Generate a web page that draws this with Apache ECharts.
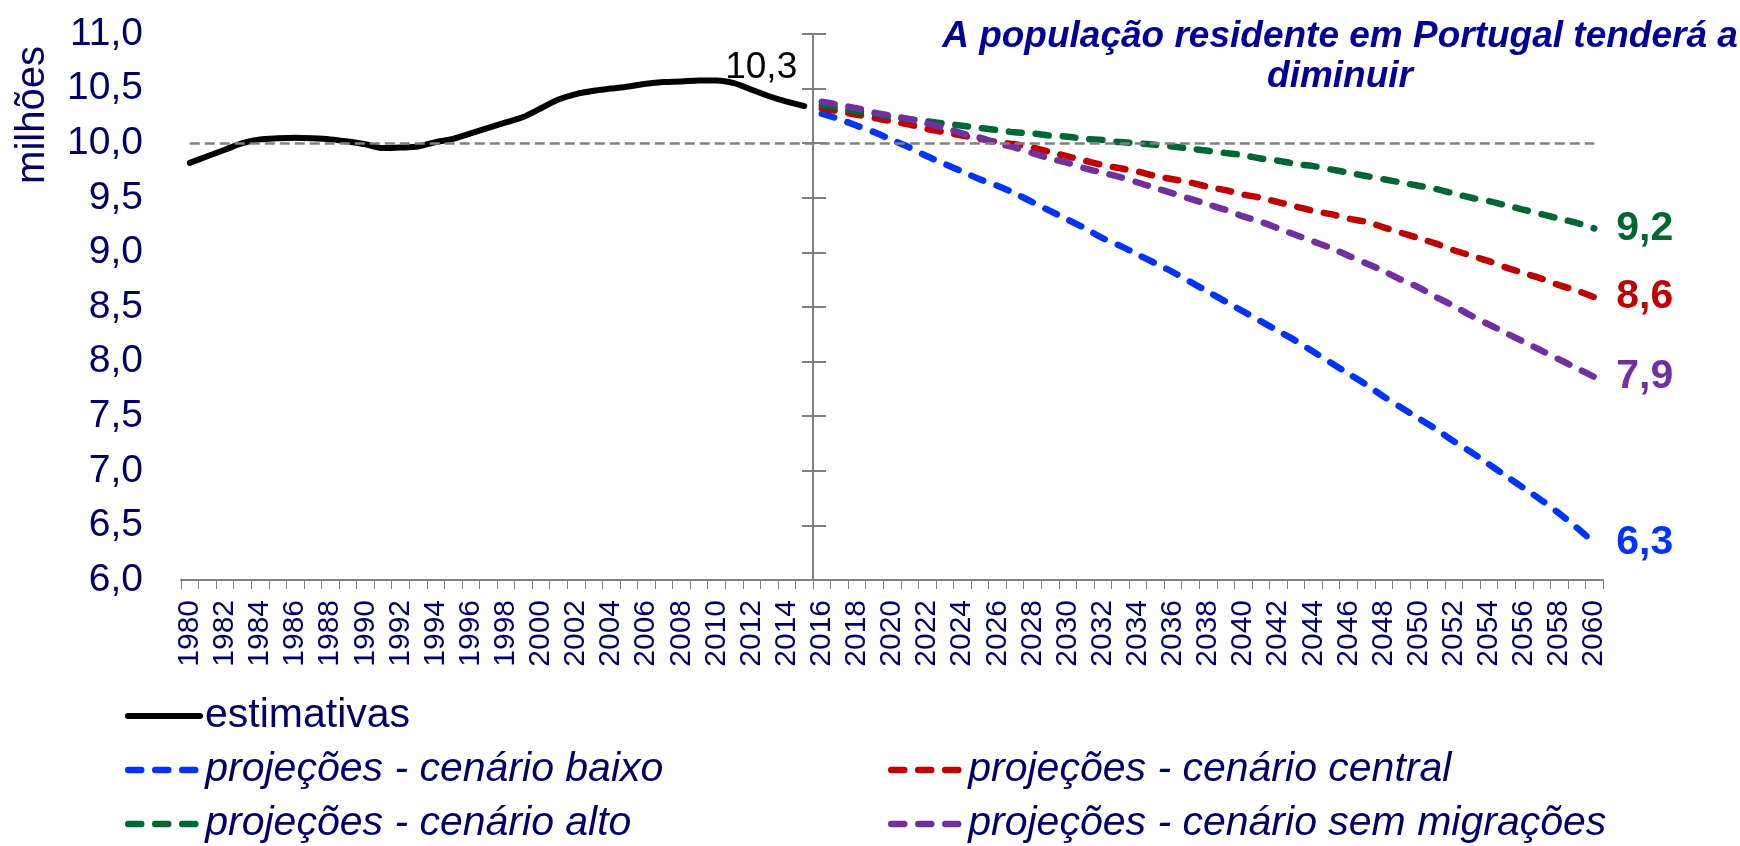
<!DOCTYPE html>
<html>
<head>
<meta charset="utf-8">
<script src="https://cdn.jsdelivr.net/npm/echarts@6/dist/echarts.min.js"></script>
<style>
  html, body { margin: 0; padding: 0; background: #fff; }
  #chart { width: 1740px; height: 846px; }
</style>
</head>
<body>
<div id="chart"></div>
<script>
// anos 1980-2060 (eixo das categorias)
const years = []
for (let y = 1980; y <= 2060; y++) years.push(String(y))

// estimativas 1980-2015 (milhões)
const estimativas = [9.82, 9.88, 9.94, 10.00, 10.035, 10.045, 10.05, 10.045, 10.035, 10.015,
  9.99, 9.955, 9.96, 9.97, 10.01, 10.04, 10.09, 10.14, 10.19, 10.24,
  10.32, 10.40, 10.45, 10.48, 10.50, 10.52, 10.545, 10.56, 10.565, 10.575,
  10.575, 10.55, 10.49, 10.43, 10.38, 10.34]

// projeções 2016-2060 (milhões)
const cenarioBaixo = [10.27, 10.22, 10.16, 10.10, 10.03, 9.96, 9.88, 9.81, 9.74, 9.67,
  9.61, 9.54, 9.46, 9.38, 9.30, 9.22, 9.13, 9.06, 8.98, 8.90,
  8.82, 8.73, 8.64, 8.55, 8.46, 8.37, 8.28, 8.19, 8.09, 7.99,
  7.89, 7.79, 7.68, 7.58, 7.48, 7.38, 7.27, 7.17, 7.06, 6.95,
  6.84, 6.73, 6.61, 6.48, 6.34]
const cenarioCentral = [10.32, 10.29, 10.26, 10.23, 10.20, 10.17, 10.13, 10.10, 10.07, 10.04,
  10.01, 9.99, 9.96, 9.92, 9.88, 9.84, 9.80, 9.77, 9.74, 9.70,
  9.67, 9.64, 9.60, 9.57, 9.53, 9.50, 9.46, 9.42, 9.38, 9.35,
  9.31, 9.28, 9.23, 9.18, 9.13, 9.08, 9.02, 8.97, 8.92, 8.86,
  8.81, 8.76, 8.70, 8.65, 8.59]
const cenarioAlto = [10.35, 10.32, 10.29, 10.27, 10.24, 10.22, 10.20, 10.18, 10.16, 10.14,
  10.12, 10.10, 10.09, 10.07, 10.06, 10.04, 10.03, 10.01, 10.00, 9.985,
  9.97, 9.95, 9.93, 9.91, 9.89, 9.86, 9.84, 9.81, 9.79, 9.76,
  9.73, 9.70, 9.67, 9.64, 9.61, 9.58, 9.54, 9.50, 9.47, 9.43,
  9.39, 9.35, 9.31, 9.27, 9.22]
const cenarioSemMigracoes = [10.38, 10.35, 10.32, 10.28, 10.25, 10.22, 10.18, 10.14, 10.09, 10.05,
  10.00, 9.96, 9.91, 9.86, 9.82, 9.77, 9.73, 9.69, 9.64, 9.59,
  9.54, 9.49, 9.44, 9.39, 9.33, 9.28, 9.22, 9.16, 9.10, 9.04,
  8.97, 8.90, 8.83, 8.75, 8.68, 8.59, 8.51, 8.42, 8.34, 8.26,
  8.18, 8.10, 8.02, 7.94, 7.86]

const referencia = 10

const FONT = "'Liberation Sans', Arial, sans-serif"
const NAVY = '#000066'
const GRAY = '#808080'
const DASH = [13, 14]
const fmt = v => Number(v).toFixed(1).replace('.', ',')

const padProj = arr => new Array(estimativas.length).fill(null).concat(arr)

const projSeries = (name, data, color) => ({
  name: name,
  type: 'line',
  data: padProj(data),
  symbol: 'none',
  smooth: 0.3,
  lineStyle: { color: color, width: 6.5, type: DASH, cap: 'round' },
  itemStyle: { color: color },
  endLabel: {
    show: true,
    formatter: p => fmt(p.value),
    color: color,
    fontFamily: FONT,
    fontSize: 41,
    fontWeight: 'bold',
    distance: 22
  },
  z: 3
})

// uma legenda por entrada, para as colocar como no original
const legendAt = (name, left, top, dashed) => ({
  data: [name],
  left: left,
  top: top,
  padding: 0,
  itemWidth: 72,
  itemHeight: 20,
  itemGap: 0,
  selectedMode: false,
  itemStyle: { opacity: 0 },
  lineStyle: dashed
    ? { width: 6.5, type: DASH, cap: 'round' }
    : { width: 6, type: 'solid', cap: 'round' },
  textStyle: {
    fontFamily: FONT,
    fontSize: 41,
    lineHeight: 46,
    color: NAVY,
    fontStyle: dashed ? 'italic' : 'normal'
  }
})

const yBase = { type: 'value', min: 6, max: 11, interval: 0.5, splitLine: { show: false } }

const myChart = echarts.init(document.getElementById('chart'))
myChart.setOption({
  animation: false,
  backgroundColor: '#fff',
  title: {
    text: 'A população residente em Portugal tenderá a\ndiminuir',
    left: 1335,
    top: 12,
    textAlign: 'center',
    textStyle: {
      fontFamily: FONT,
      fontSize: 37,
      fontWeight: 'bold',
      fontStyle: 'italic',
      color: '#000099',
      lineHeight: 40
    }
  },
  graphic: [{
    type: 'text',
    x: 33,
    y: 115,
    rotation: Math.PI / 2,
    style: {
      text: 'milhões',
      fontFamily: FONT,
      fontSize: 40,
      fill: NAVY,
      align: 'center',
      verticalAlign: 'middle'
    }
  }],
  legend: [
    legendAt('estimativas', 125, 693, false),
    legendAt('projeções - cenário baixo', 125, 747, true),
    legendAt('projeções - cenário alto', 125, 801, true),
    legendAt('projeções - cenário central', 888, 747, true),
    legendAt('projeções - cenário sem migrações', 888, 801, true)
  ],
  grid: { left: 181, right: 137, top: 34, bottom: 266, containLabel: false },
  xAxis: {
    type: 'category',
    data: years,
    boundaryGap: true,
    axisLine: { lineStyle: { color: GRAY, width: 2 } },
    axisTick: { show: true, interval: 0, length: 9, lineStyle: { color: GRAY, width: 1 } },
    axisLabel: {
      interval: 1,
      rotate: 90,
      margin: 20,
      fontFamily: FONT,
      fontSize: 30,
      color: NAVY
    }
  },
  yAxis: [
    Object.assign({}, yBase, {
      axisLine: { show: false },
      axisTick: { show: false },
      axisLabel: { margin: 38, fontFamily: FONT, fontSize: 39, color: NAVY, formatter: v => fmt(v) }
    }),
    Object.assign({}, yBase, {
      position: 'left',
      offset: -632,
      axisLine: { show: true, lineStyle: { color: GRAY, width: 2 } },
      axisTick: { show: true, length: 11, lineStyle: { color: GRAY, width: 2 } },
      axisLabel: { show: false }
    }),
    Object.assign({}, yBase, {
      position: 'left',
      offset: -632,
      axisLine: { show: false },
      axisTick: { show: true, inside: true, length: 13, lineStyle: { color: GRAY, width: 2 } },
      axisLabel: { show: false }
    })
  ],
  series: [
    {
      name: 'estimativas',
      type: 'line',
      data: estimativas,
      symbol: 'none',
      smooth: 0.3,
      lineStyle: { color: '#000', width: 6, cap: 'round' },
      itemStyle: { color: '#000' },
      z: 4,
      markLine: {
        silent: true,
        symbol: ['none', 'none'],
        label: { show: false },
        lineStyle: { color: GRAY, width: 2.5, type: [10, 5] },
        data: [[{ coord: [years[0], referencia] }, { coord: [years[years.length - 1], referencia] }]]
      },
      markPoint: {
        silent: true,
        symbol: 'circle',
        symbolSize: 0,
        itemStyle: { color: 'transparent' },
        label: {
          show: true,
          position: 'inside',
          offset: [-43, -38],
          formatter: p => fmt(p.value),
          fontFamily: FONT,
          fontSize: 37,
          color: '#000'
        },
        data: [{
          coord: [years[estimativas.length - 1], estimativas[estimativas.length - 1]],
          value: estimativas[estimativas.length - 1]
        }]
      }
    },
    projSeries('projeções - cenário baixo', cenarioBaixo, '#0033FF'),
    projSeries('projeções - cenário central', cenarioCentral, '#C00000'),
    projSeries('projeções - cenário alto', cenarioAlto, '#006633'),
    projSeries('projeções - cenário sem migrações', cenarioSemMigracoes, '#7030A0')
  ]
})
</script>
</body>
</html>
